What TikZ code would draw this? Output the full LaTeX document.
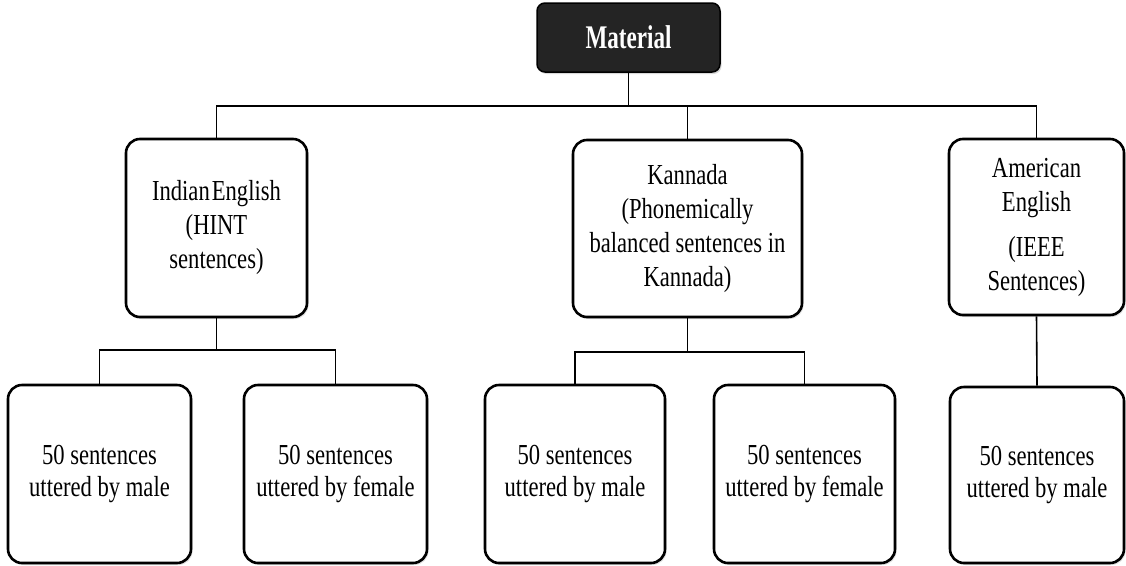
\documentclass[tikz,border=0pt]{standalone}
\usepackage{fontspec}
\setmainfont{Liberation Serif}
\newfontfamily\bodyf[FakeStretch=0.78]{Liberation Serif}
\newfontfamily\matf[FakeStretch=0.70]{Liberation Serif}
\usetikzlibrary{shadows}
\begin{document}
\begin{tikzpicture}[x=1pt,y=-1pt,
  box/.style={draw=black, line width=2.6pt, rounded corners=14pt, fill=white,
    align=center, inner sep=2pt,
    font=\bodyf\fontsize{29}{34}\selectfont,
    drop shadow={shadow xshift=1.5pt, shadow yshift=-2pt, opacity=0.25}},
  subbox/.style={box, font=\bodyf\fontsize{29}{32}\selectfont},
  topbox/.style={draw=black, line width=1.5pt, rounded corners=8pt, fill=black!86,
    text=white, align=center, font=\matf\bfseries\fontsize{33}{38}\selectfont,
    minimum width=183pt, minimum height=69pt,
    drop shadow={shadow xshift=1.5pt, shadow yshift=-2pt, opacity=0.3}},
  conn/.style={draw=black, line width=1.6pt}]
\useasboundingbox (0,0) rectangle (1126,565);

\node[topbox] (mat) at (628.5,37.5) {Material};

\node[box, minimum width=181pt, minimum height=178pt] (ind) at (216.5,228) {Indian\kern2pt English\\(HINT\\sentences)};
\node[box, minimum width=229pt, minimum height=177pt] (kan) at (687.5,228.5) {Kannada\\(Phonemically\\balanced sentences in\\Kannada)};
\node[box, minimum width=175pt, minimum height=176pt] (ame) at (1036.5,227) {American\\English\\[11pt](IEEE\\Sentences)};

\node[subbox, minimum width=183pt, minimum height=178pt] (b1) at (99.5,474) {50 sentences\\uttered by male};
\node[subbox, minimum width=183pt, minimum height=178pt] (b2) at (335.5,474) {50 sentences\\uttered by female};
\node[subbox, minimum width=180pt, minimum height=178pt] (b3) at (575,474) {50 sentences\\uttered by male};
\node[subbox, minimum width=181pt, minimum height=178pt] (b4) at (804.5,474) {50 sentences\\uttered by female};
\node[subbox, minimum width=174pt, minimum height=176pt] (b5) at (1037,475) {50 sentences\\uttered by male};

\coordinate (bus) at (628.5,106);
\coordinate (ibus) at (216.5,350);
\coordinate (kbus) at (687.5,352);

\draw[conn] (mat.south) -- (bus);
\draw[conn] (ind.north) |- (bus) -| (ame.north);
\draw[conn] (kan.north) -- (kan.north |- bus);

\draw[conn] (ind.south) -- (ibus);
\draw[conn] (b1.north) |- (ibus) -| (b2.north);

\draw[conn] (kan.south) -- (kbus);
\draw[conn] (b3.north) |- (kbus) -| (b4.north);

\draw[conn] (ame.south) -- (b5.north);
\end{tikzpicture}
\end{document}
